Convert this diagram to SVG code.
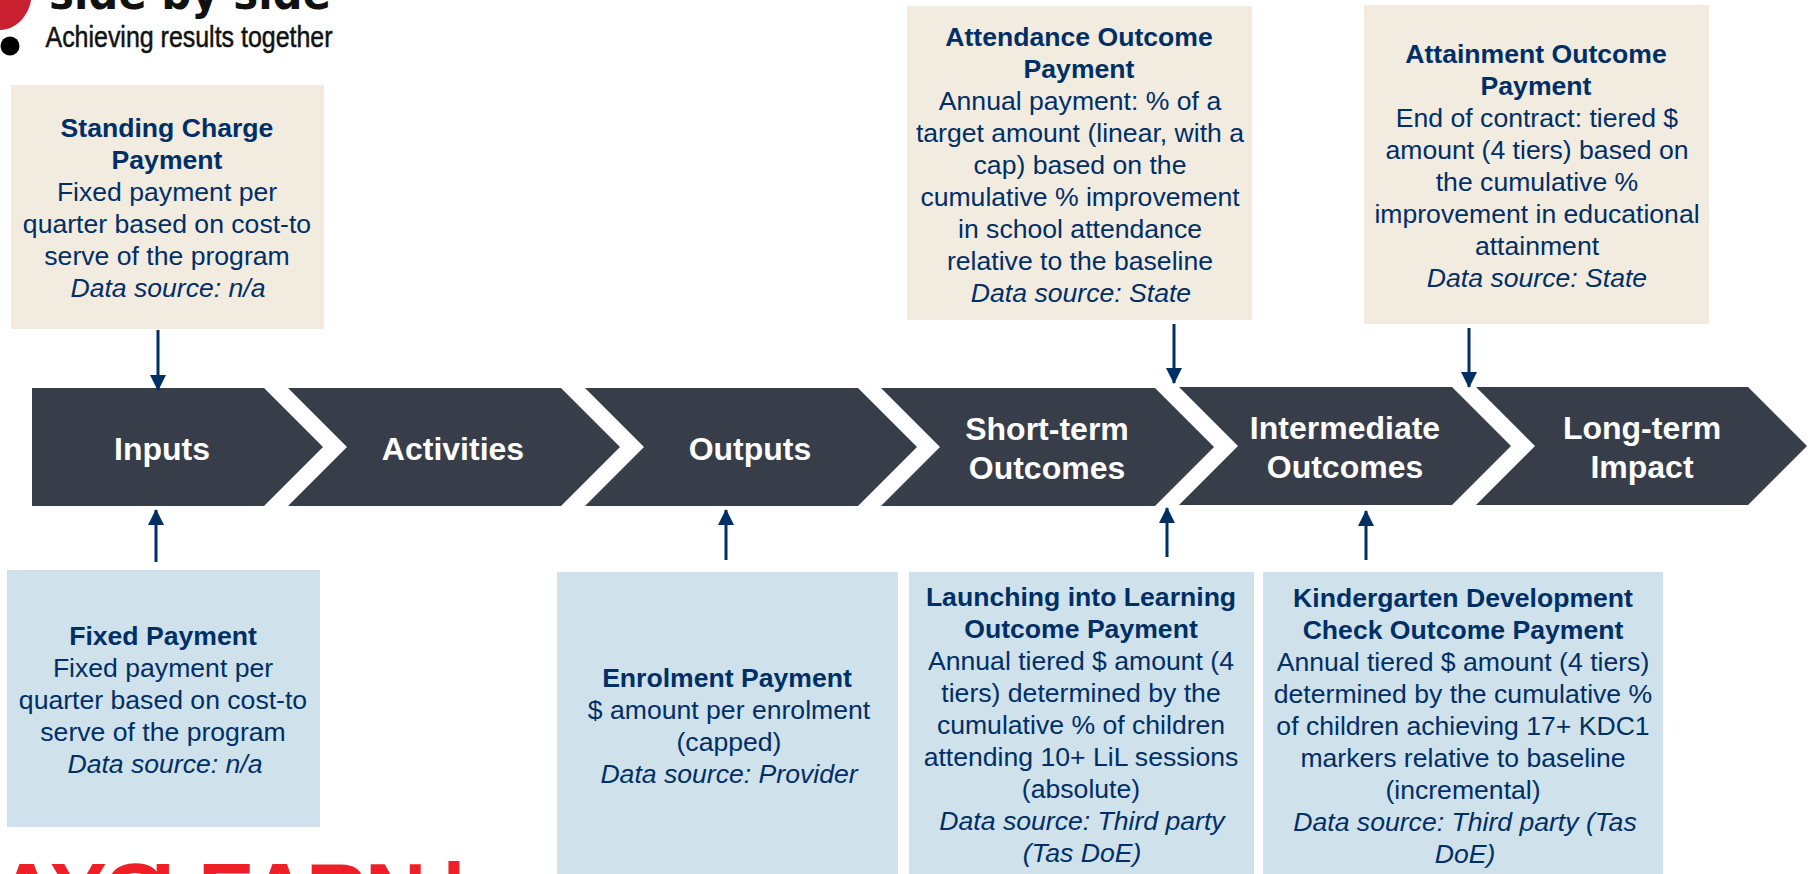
<svg xmlns="http://www.w3.org/2000/svg" width="1815" height="874" viewBox="0 0 1815 874">
<style>
text{font-family:"Liberation Sans",Arial,sans-serif;text-anchor:middle;fill:#002f66;font-size:26.6px}
.b{font-weight:700}
.i{font-style:italic}
.c text{fill:#fff;font-weight:700;font-size:32px}
.chev{fill:#373e49}
.tan{fill:#f2ebe0}
.blue{fill:#cfe1ea}
.conn line{stroke:#002f66;stroke-width:3}
</style>
<defs><marker id="ah" markerUnits="userSpaceOnUse" markerWidth="16" markerHeight="16" refX="15" refY="8" orient="auto"><path d="M0 0L16 8L0 16z" fill="#002f66"/></marker></defs>
<g id="logo-top">
<path d="M0 0H31C29 15 16 30 0 30z" fill="#c8202f"/>
<circle cx="10" cy="46" r="9.5" fill="#000"/>
<text x="190" y="9" textLength="282" lengthAdjust="spacingAndGlyphs" style="font-family:'DejaVu Sans',sans-serif;font-size:46px;font-weight:700;fill:#111">side by side</text>
<text x="189" y="47" style="font-family:'Liberation Sans Narrow','Liberation Sans',sans-serif;font-size:29px;fill:#111;stroke:#111;stroke-width:.5" textLength="287" lengthAdjust="spacingAndGlyphs">Achieving results together</text>
</g>
<g id="logo-bottom"><text x="-4 50 103 151 198 249 306 365 442" y="923" style="font-family:'Liberation Sans',sans-serif;font-size:85px;font-weight:700;fill:#ee1f27;text-anchor:start">AYCLEARN|</text></g>
<g id="standing-charge"><rect class="tan" x="11" y="85" width="313" height="244"/>
<text x="167" y="137" class="b">Standing Charge</text><text x="167" y="169" class="b">Payment</text><text x="167" y="201">Fixed payment per</text><text x="167" y="233">quarter based on cost-to</text><text x="167" y="265">serve of the program</text><text x="168" y="297" class="i">Data source: n/a</text></g>
<g id="attendance"><rect class="tan" x="907" y="6" width="345" height="314"/>
<text x="1079" y="46" class="b">Attendance Outcome</text><text x="1079" y="78" class="b">Payment</text><text x="1080" y="110">Annual payment: % of a</text><text x="1080" y="142">target amount (linear, with a</text><text x="1080" y="174">cap) based on the</text><text x="1080" y="206">cumulative % improvement</text><text x="1080" y="238">in school attendance</text><text x="1080" y="270">relative to the baseline</text><text x="1081" y="302" class="i">Data source: State</text></g>
<g id="attainment"><rect class="tan" x="1364" y="5" width="345" height="319"/>
<text x="1536" y="63" class="b">Attainment Outcome</text><text x="1536" y="95" class="b">Payment</text><text x="1537" y="127">End of contract: tiered $</text><text x="1537" y="159">amount (4 tiers) based on</text><text x="1537" y="191">the cumulative %</text><text x="1537" y="223">improvement in educational</text><text x="1537" y="255">attainment</text><text x="1537" y="287" class="i">Data source: State</text></g>
<g class="c" id="chevrons">
<g id="inputs"><path class="chev" d="M32 388H264L323 447L264 506H32z"/><text x="162" y="460">Inputs</text></g>
<g id="activities"><path class="chev" d="M288 388H561L620 447L561 506H288L347 447z"/><text x="453" y="460">Activities</text></g>
<g id="outputs"><path class="chev" d="M585 388H858L917 447L858 506H585L644 447z"/><text x="750" y="460">Outputs</text></g>
<g id="short-term"><path class="chev" d="M881 388H1155L1214 447L1155 506H881L940 447z"/><text x="1047" y="440">Short-term</text><text x="1047" y="479">Outcomes</text></g>
<g id="intermediate"><path class="chev" d="M1179 387H1452L1511 446L1452 505H1179L1238 446z"/><text x="1345" y="439">Intermediate</text><text x="1345" y="478">Outcomes</text></g>
<g id="long-term"><path class="chev" d="M1476 387H1748L1807 446L1748 505H1476L1535 446z"/><text x="1642" y="439">Long-term</text><text x="1642" y="478">Impact</text></g>
</g>
<g id="fixed"><rect class="blue" x="7" y="570" width="313" height="257"/>
<text x="163" y="645" class="b">Fixed Payment</text><text x="163" y="677">Fixed payment per</text><text x="163" y="709">quarter based on cost-to</text><text x="163" y="741">serve of the program</text><text x="165" y="773" class="i">Data source: n/a</text></g>
<g id="enrolment"><rect class="blue" x="557" y="572" width="341" height="302"/>
<text x="727" y="687" class="b">Enrolment Payment</text><text x="729" y="719">$ amount per enrolment</text><text x="729" y="751">(capped)</text><text x="729" y="783" class="i">Data source: Provider</text></g>
<g id="lil"><rect class="blue" x="909" y="572" width="345" height="302"/>
<text x="1081" y="606" class="b">Launching into Learning</text><text x="1081" y="638" class="b">Outcome Payment</text><text x="1081" y="670">Annual tiered $ amount (4</text><text x="1081" y="702">tiers) determined by the</text><text x="1081" y="734">cumulative % of children</text><text x="1081" y="766">attending 10+ LiL sessions</text><text x="1081" y="798">(absolute)</text><text x="1082" y="830" class="i">Data source: Third party</text><text x="1082" y="862" class="i">(Tas DoE)</text></g>
<g id="kdc"><rect class="blue" x="1263" y="572" width="400" height="302"/>
<text x="1463" y="607" class="b">Kindergarten Development</text><text x="1463" y="639" class="b">Check Outcome Payment</text><text x="1463" y="671">Annual tiered $ amount (4 tiers)</text><text x="1463" y="703">determined by the cumulative %</text><text x="1463" y="735">of children achieving 17+ KDC1</text><text x="1463" y="767">markers relative to baseline</text><text x="1463" y="799">(incremental)</text><text x="1465" y="831" class="i">Data source: Third party (Tas</text><text x="1465" y="863" class="i">DoE)</text></g>
<g class="conn" id="connectors">
<line x1="158" y1="330" x2="158" y2="390" marker-end="url(#ah)"/>
<line x1="156" y1="562" x2="156" y2="510" marker-end="url(#ah)"/>
<line x1="726" y1="560" x2="726" y2="510" marker-end="url(#ah)"/>
<line x1="1174" y1="324" x2="1174" y2="383" marker-end="url(#ah)"/>
<line x1="1167" y1="557" x2="1167" y2="508" marker-end="url(#ah)"/>
<line x1="1469" y1="328" x2="1469" y2="387" marker-end="url(#ah)"/>
<line x1="1366" y1="560" x2="1366" y2="511" marker-end="url(#ah)"/>
</g>
</svg>
